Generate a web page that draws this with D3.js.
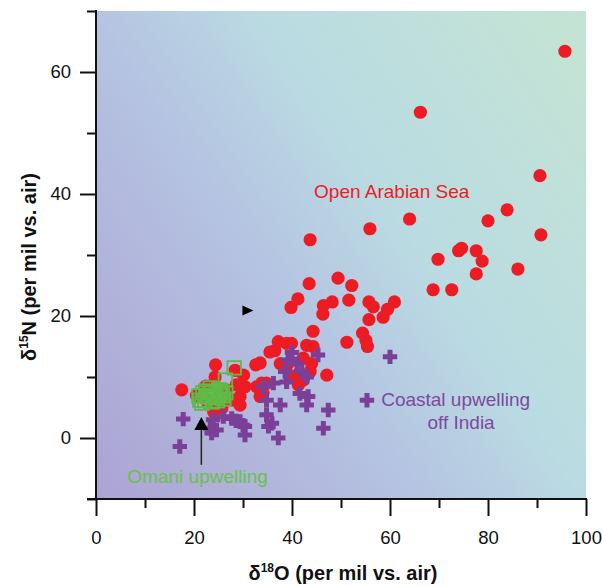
<!DOCTYPE html>
<html>
<head>
<meta charset="utf-8">
<script src="https://cdn.jsdelivr.net/npm/d3@7"></script>
<style>
  html, body { margin: 0; padding: 0; background: #fff; }
  svg { display: block; font-family: "Liberation Sans", Arial, sans-serif; }
</style>
</head>
<body>
<svg id="chart" width="603" height="586"></svg>
<script>
// δ18O (x) and δ15N (y) of nitrate, per mil vs. air

// Open Arabian Sea
const arabianX = [95.7, 66.2, 90.6, 83.9, 80.0, 90.8, 64.0, 55.9, 43.7, 69.8, 74.6, 74.0, 77.6, 78.8, 77.6, 86.1,
  68.8, 72.6, 43.5, 49.4, 52.2, 41.2, 39.8, 48.2, 46.4, 46.3, 51.6, 55.7, 56.6, 60.9, 59.5, 58.6, 55.7,
  44.3, 51.2, 54.4, 55.1, 55.4, 38.9, 39.9, 43.0, 44.3, 36.5, 37.6, 39.2, 42.3, 44.0, 43.7, 41.0, 41.3,
  47.1, 33.5, 34.1, 24.4, 28.4, 32.6, 17.5, 30.1, 30.4, 24.3, 29.4, 29.4, 34.8, 33.5, 22.4, 26.5, 27.8,
  25.7, 22.9, 28.6, 32.8, 35.5, 37.2, 39.6, 42.3, 33.8, 20.5, 24.0];
const arabianY = [63.4, 53.4, 43.0, 37.4, 35.6, 33.3, 35.9, 34.3, 32.5, 29.3, 31.1, 30.7, 30.7, 29.0, 26.9, 27.7,
  24.3, 24.3, 25.3, 26.2, 25.0, 22.8, 21.4, 22.3, 21.7, 20.3, 22.6, 22.3, 21.5, 22.3, 21.1, 19.8, 19.4,
  17.5, 15.7, 17.2, 16.0, 15.0, 15.5, 15.5, 15.2, 15.0, 14.3, 12.2, 12.2, 13.1, 12.2, 10.9, 10.3, 8.7,
  10.3, 12.3, 7.4, 12.0, 11.1, 12.0, 7.9, 10.3, 8.4, 10.0, 6.8, 5.4, 9.0, 6.8, 8.5, 7.9, 6.2,
  4.9, 5.6, 8.7, 8.4, 14.1, 15.8, 10.0, 9.5, 9.0, 7.0, 4.3];

// Coastal upwelling off India
const indiaX = [45.3, 39.2, 41.0, 38.6, 42.0, 43.0, 38.9, 36.2, 34.1, 41.6, 43.3, 43.0, 34.8, 37.6, 47.4, 35.9,
  46.4, 37.2, 60.0, 17.8, 23.9, 26.0, 27.7, 29.4, 23.3, 24.6, 30.4, 30.4, 17.1, 34.8, 35.2, 23.6, 28.6,
  30.0, 40.0];
const indiaY = [13.6, 12.8, 12.2, 10.9, 10.9, 10.0, 9.2, 9.0, 8.4, 7.3, 6.8, 5.4, 6.2, 5.4, 4.6, 2.4,
  1.6, 0.0, 13.3, 3.1, 3.0, 3.5, 3.2, 2.7, 1.6, 1.3, 1.9, 0.5, -1.4, 3.8, 1.9, 0.8, 2.8,
  2.1, 14.0];

// Omani upwelling
const omanX = [28.2, 26.4, 21.2, 21.8, 22.9, 23.7, 24.5, 25.3, 26.1, 26.5, 22.2, 23.7, 25.1, 23.3,
  21.0, 22.6, 24.2, 25.8, 21.6, 24.8, 22.4, 25.5];
const omanY = [11.5, 9.5, 6.2, 7.4, 6.7, 7.4, 6.6, 7.2, 6.4, 7.4, 6.1, 5.9, 7.9, 8.2,
  6.9, 7.0, 6.9, 6.9, 5.7, 6.1, 7.7, 7.6];

// Single reference sample (right-pointing marker)
const refX = [30.9];
const refY = [20.9];

// Axis ticks
const xMajor = [0, 20, 40, 60, 80, 100];
const xMinor = [10, 30, 50, 70, 90];
const yMajor = [0, 20, 40, 60];
const yMinor = [-10, 10, 30, 50, 70];

const svg = d3.select("#chart");
const plotL = 96, plotR = 586, plotT = 11, plotB = 499;

const x = d3.scaleLinear().domain([0, 100]).range([plotL, plotR]);
const y = d3.scaleLinear().domain([-10, 70]).range([plotB, plotT]);

// background gradient
const defs = svg.append("defs");
const grad = defs.append("linearGradient")
  .attr("id", "bg")
  .attr("gradientUnits", "userSpaceOnUse")
  .attr("x1", plotL).attr("y1", plotB)
  .attr("x2", 660).attr("y2", 121);
[[0, "#aca3d3"], [0.4, "#b5c4e2"], [0.6, "#badbe2"], [1, "#c4e4d3"]].forEach(([o, c]) =>
  grad.append("stop").attr("offset", o).attr("stop-color", c));

svg.append("rect")
  .attr("x", plotL).attr("y", plotT)
  .attr("width", plotR - plotL).attr("height", plotB - plotT)
  .attr("fill", "url(#bg)");

const red = "#ed1c24", purple = "#7b3f98", green = "#5fba46";

// Open Arabian Sea — filled circles
svg.append("g").selectAll("circle")
  .data(d3.range(arabianX.length))
  .join("circle")
  .attr("cx", i => x(arabianX[i]))
  .attr("cy", i => y(arabianY[i]))
  .attr("r", 6.6)
  .attr("fill", red);

// Omani upwelling — open squares
const sq = 13.5;
svg.append("g").selectAll("rect")
  .data(d3.range(omanX.length))
  .join("rect")
  .attr("x", i => x(omanX[i]) - sq / 2)
  .attr("y", i => y(omanY[i]) - sq / 2)
  .attr("width", sq).attr("height", sq)
  .attr("fill", "none")
  .attr("stroke", green)
  .attr("stroke-width", 1.8);

// Coastal upwelling off India — plus signs
const h = 7.2, w = 2.5;
const plus = `M${-w},${-h}H${w}V${-w}H${h}V${w}H${w}V${h}H${-w}V${w}H${-h}V${-w}H${-w}Z`;
svg.append("g").selectAll("path")
  .data(d3.range(indiaX.length))
  .join("path")
  .attr("transform", i => `translate(${x(indiaX[i])},${y(indiaY[i])})`)
  .attr("d", plus)
  .attr("fill", purple);

// reference marker
svg.append("g").selectAll("path")
  .data(d3.range(refX.length))
  .join("path")
  .attr("transform", i => `translate(${x(refX[i])},${y(refY[i])})`)
  .attr("d", "M-5,-5L6,0L-5,5Z")
  .attr("fill", "#000");

// arrow pointing at the Omani cluster
const arrowX = 21.5;
svg.append("line")
  .attr("x1", x(arrowX)).attr("x2", x(arrowX))
  .attr("y1", y(-4.4)).attr("y2", y(1.3))
  .attr("stroke", "#222").attr("stroke-width", 1.5);
svg.append("path")
  .attr("transform", `translate(${x(arrowX)},${y(2.3)})`)
  .attr("d", "M0,-7L7,6L-7,6Z")
  .attr("fill", "#000");

// labels
const labelSize = 19;
svg.append("text").attr("x", x(44.5)).attr("y", y(39.3))
  .attr("font-size", labelSize).attr("fill", red).text("Open Arabian Sea");
svg.append("path")
  .attr("transform", `translate(${x(55.3)},${y(6.2)})`)
  .attr("d", plus).attr("fill", purple);
svg.append("text").attr("x", x(58.2)).attr("y", y(5.2))
  .attr("font-size", labelSize).attr("fill", "#7d4a9e").text("Coastal upwelling");
svg.append("text").attr("x", x(74.5)).attr("y", y(1.5))
  .attr("font-size", labelSize).attr("fill", "#7d4a9e").attr("text-anchor", "middle").text("off India");
svg.append("text").attr("x", x(6.4)).attr("y", y(-7.3))
  .attr("font-size", labelSize).attr("fill", "#6cbf47").text("Omani upwelling");

// axes
function styleAxis(g) {
  g.select(".domain").remove();
  g.selectAll("line").attr("stroke", "#111").attr("stroke-width", 2);
  g.selectAll("text").attr("font-size", 18.5).attr("fill", "#111")
    .attr("font-family", "Liberation Sans, Arial, sans-serif");
}

svg.append("g").attr("transform", `translate(0,${plotB})`)
  .call(d3.axisBottom(x).tickValues(xMajor).tickSize(17).tickPadding(15).tickFormat(d3.format("d")))
  .call(styleAxis);
svg.append("g").attr("transform", `translate(0,${plotB})`)
  .call(d3.axisBottom(x).tickValues(xMinor).tickSize(9).tickFormat(""))
  .call(styleAxis);
svg.append("g").attr("transform", `translate(${plotL},0)`)
  .call(d3.axisLeft(y).tickValues(yMajor).tickSize(16).tickPadding(9).tickFormat(d3.format("d")))
  .call(styleAxis);
svg.append("g").attr("transform", `translate(${plotL},0)`)
  .call(d3.axisLeft(y).tickValues(yMinor).tickSize(9).tickFormat(""))
  .call(styleAxis);

// axis lines
svg.append("line").attr("x1", plotL - 9).attr("x2", plotR + 1)
  .attr("y1", plotB).attr("y2", plotB)
  .attr("stroke", "#111").attr("stroke-width", 2);
svg.append("line").attr("x1", plotL).attr("x2", plotL)
  .attr("y1", plotT - 1).attr("y2", plotB + 1)
  .attr("stroke", "#111").attr("stroke-width", 2);

// axis titles
const xt = svg.append("text").attr("x", (plotL + plotR) / 2 + 2).attr("y", 580)
  .attr("text-anchor", "middle").attr("font-size", 20).attr("font-weight", "bold").attr("fill", "#111");
xt.append("tspan").text("δ");
xt.append("tspan").attr("font-size", 12).attr("dy", -8).text("18");
xt.append("tspan").attr("dy", 8).text("O (per mil vs. air)");

const yt = svg.append("text")
  .attr("transform", `translate(36,${(plotT + plotB) / 2 + 12}) rotate(-90)`)
  .attr("text-anchor", "middle").attr("font-size", 20).attr("font-weight", "bold").attr("fill", "#111");
yt.append("tspan").text("δ");
yt.append("tspan").attr("font-size", 12).attr("dy", -8).text("15");
yt.append("tspan").attr("dy", 8).text("N (per mil vs. air)");
</script>
</body>
</html>
